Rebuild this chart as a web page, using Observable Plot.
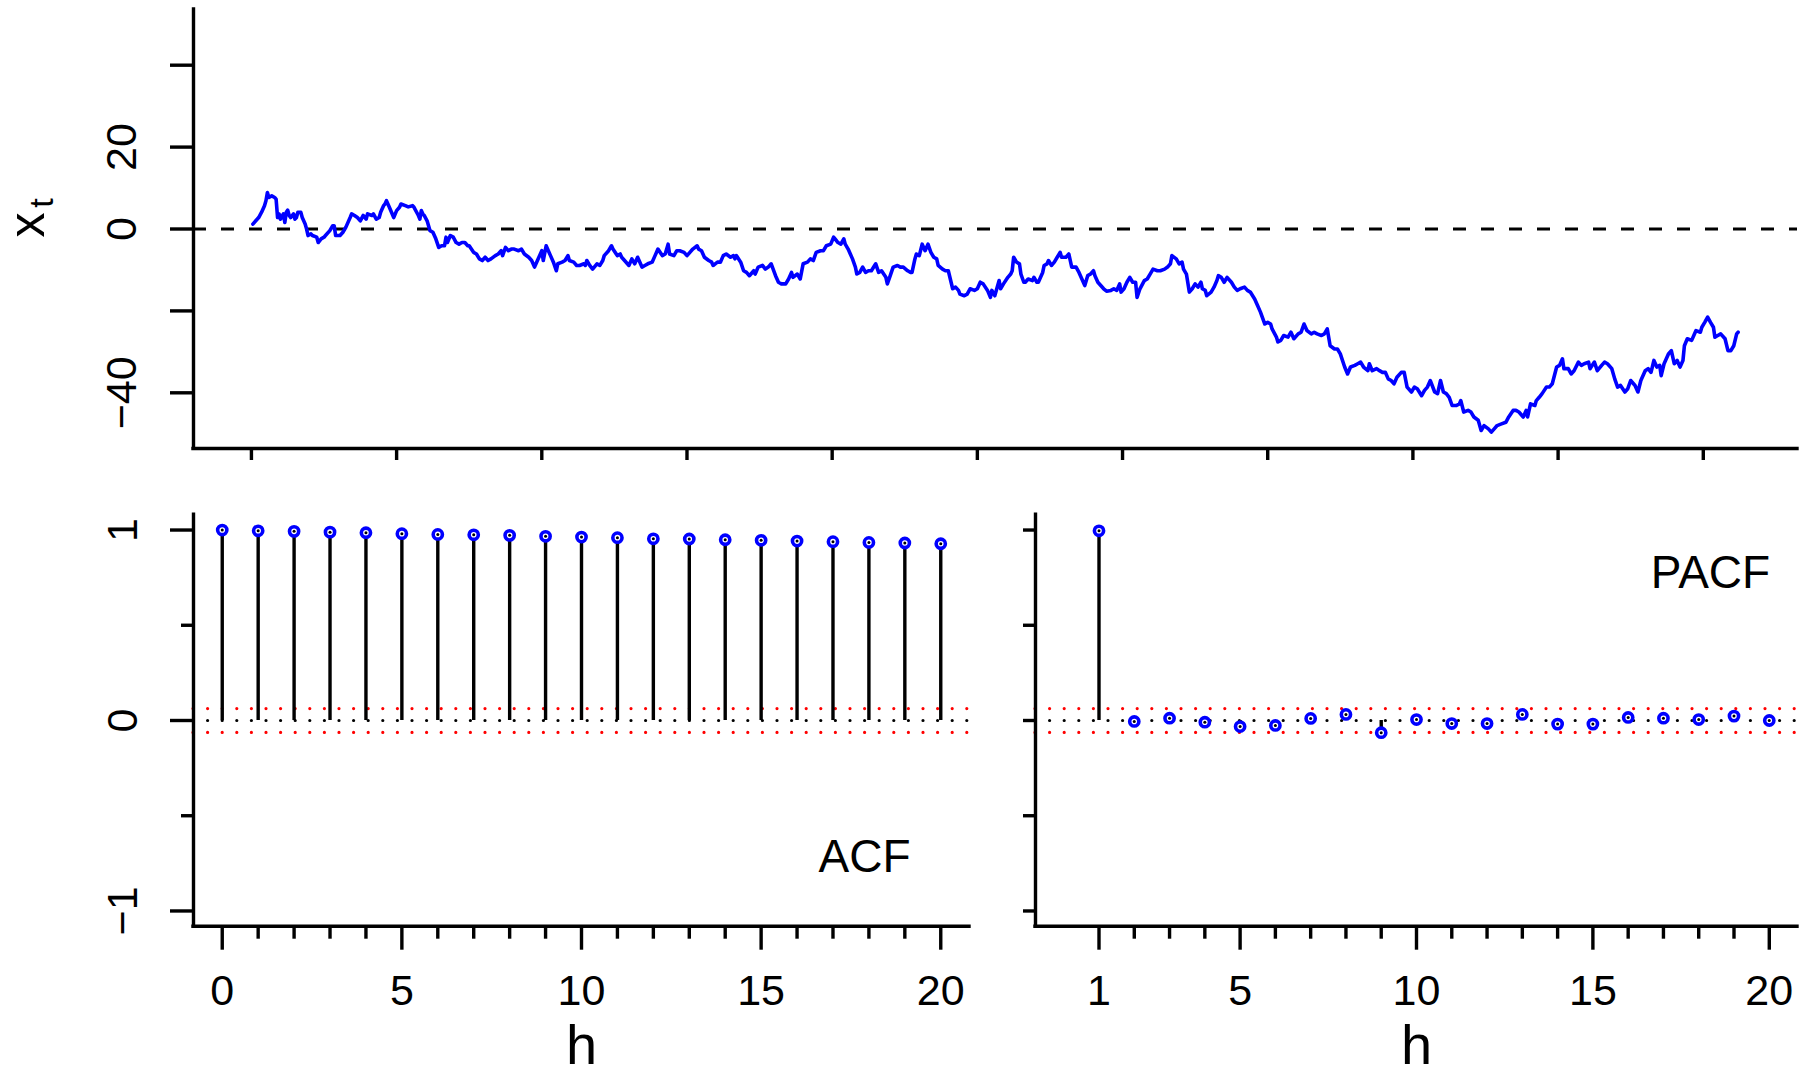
<!DOCTYPE html>
<html>
<head>
<meta charset="utf-8">
<script src="https://cdn.jsdelivr.net/npm/d3@7"></script>
<script src="https://cdn.jsdelivr.net/npm/@observablehq/plot@0.6"></script>
<style>
html, body { margin: 0; padding: 0; background: #fff; }
#chart { position: relative; width: 1804px; height: 1076px; overflow: hidden; background: #fff; }
#chart svg { position: absolute; overflow: visible; }
</style>
</head>
<body>
<div id="chart"></div>
<script>
// ---- Top panel: random walk x_t (time index and value) ----
const timeIndex = [1,3,5,7,9,10,11,12,14,16,17,18,19,20,22,23,24,25,26,27,29,30,31,32,34,35,37,38,39,41,42,45,46,48,50,51,54,56,57,58,61,63,65,68,69,71,73,75,77,79,80,83,84,86,88,89,91,92,93,95,98,100,102,103,106,108,111,112,115,116,117,118,119,121,122,123,125,127,129,131,133,134,135,137,139,141,143,145,147,149,150,153,155,157,159,161,163,165,168,170,172,173,175,177,179,181,184,186,188,191,193,195,196,198,200,201,203,206,208,210,211,214,216,218,219,222,224,226,229,230,231,233,235,238,240,242,243,246,248,249,252,254,255,257,260,262,264,266,269,271,273,276,278,280,283,285,287,288,291,293,295,298,300,302,304,307,308,310,312,315,317,318,321,323,325,327,330,332,333,334,337,339,341,343,346,347,349,352,354,356,358,361,363,365,368,370,372,373,376,378,380,383,385,387,389,392,394,396,399,401,402,404,406,408,409,411,414,416,417,419,421,423,425,427,430,432,434,437,438,440,442,445,447,449,452,454,455,457,458,460,462,464,466,468,470,472,473,476,478,480,483,485,487,488,491,493,495,498,500,502,504,507,509,510,512,515,516,518,521,523,524,525,527,529,530,532,533,535,538,539,541,542,545,546,548,549,551,553,555,557,558,561,563,565,568,570,572,574,576,578,580,581,583,585,587,589,592,594,596,598,599,601,603,605,607,609,610,612,615,617,619,621,624,626,629,631,633,634,637,639,641,642,644,646,648,650,652,654,655,657,658,661,663,665,666,668,670,672,675,677,679,681,684,686,688,691,693,695,698,700,702,703,706,707,709,711,714,716,718,721,723,725,727,730,732,734,737,739,741,743,746,748,750,753,755,757,760,762,764,766,769,770,772,775,777,779,781,783,785,787,789,792,794,796,799,801,803,806,808,810,812,815,817,819,821,823,825,827,830,832,833,835,838,840,842,845,847,849,852,854,856,858,861,864,866,869,871,873,876,878,879,881,884,885,887,889,892,894,896,899,901,903,904,907,909,911,914,916,918,921,922,925,927,930,932,934,937,939,941,943,946,948,950,953,955,957,960,962,964,966,968,970,971,973,976,978,980,982,984,986,987,989,992,994,995,998,999,1001,1003,1005,1007,1008,1010,1012,1015,1017,1019,1021,1023,1024];
const xt = [1.2,2.0,2.8,4.1,5.7,6.9,8.9,7.7,8.1,7.7,7.3,2.8,3.7,2.4,3.7,1.6,4.1,4.6,3.3,2.8,3.7,2.4,2.8,4.1,4.1,2.8,1.2,0,-1.6,-1.2,-1.6,-2.0,-3.3,-2.4,-2.0,-1.6,-0.4,0.8,0.8,-1.6,-1.6,-0.8,0.4,2.8,3.7,3.3,2.8,2.0,3.3,2.4,3.7,3.3,3.7,2.4,2.8,4.1,5.7,6.1,6.9,5.3,2.8,4.5,5.3,6.1,5.7,5.4,5.7,5.3,3.3,2.4,4.5,3.7,3.3,2.0,0.8,-0.4,-0.8,-2.4,-4.5,-4.1,-4.1,-2.0,-3.3,-1.6,-2.0,-3.3,-3.7,-3.3,-3.3,-4.1,-4.1,-5.7,-6.1,-7.3,-7.7,-6.9,-7.7,-7.3,-6.5,-6.1,-5.3,-6.5,-4.5,-5.3,-4.9,-4.9,-5.3,-4.9,-6.1,-6.9,-7.7,-9.3,-8.5,-6.9,-5.3,-7.7,-4.1,-6.5,-8.1,-10.2,-8.5,-8.1,-7.7,-6.5,-7.7,-8.1,-8.9,-8.9,-8.5,-8.9,-7.7,-8.9,-9.8,-8.5,-8.9,-7.7,-6.5,-5.3,-4.1,-4.9,-6.5,-6.1,-6.9,-7.7,-8.9,-7.3,-8.5,-6.9,-9.3,-8.9,-8.5,-8.1,-6.5,-4.9,-6.5,-6.1,-3.7,-6.1,-6.5,-5.3,-5.3,-5.7,-6.5,-5.7,-4.9,-4.1,-4.9,-5.3,-6.9,-7.7,-8.1,-8.9,-8.1,-8.1,-6.5,-6.1,-6.9,-6.5,-7.3,-6.5,-8.1,-10.2,-10.6,-11.4,-10.2,-11.0,-9.3,-8.9,-9.8,-9.3,-8.5,-11.4,-13.0,-13.4,-13.4,-12.2,-10.6,-11.8,-11.0,-12.2,-8.5,-8.1,-7.3,-7.7,-5.7,-5.3,-5.3,-4.1,-3.7,-2.0,-2.4,-3.3,-3.7,-2.4,-3.7,-4.9,-7.3,-9.3,-11.0,-10.6,-9.3,-10.6,-10.2,-10.2,-8.5,-10.6,-10.2,-11.8,-13.4,-11.4,-9.3,-8.9,-9.3,-9.3,-10.2,-10.6,-10.6,-7.3,-6.1,-6.5,-3.7,-5.3,-3.7,-5.7,-6.9,-7.3,-8.9,-9.8,-10.2,-10.2,-14.6,-14.2,-15.0,-15.9,-16.3,-15.9,-14.6,-15.0,-14.6,-13.0,-13.4,-15.0,-16.7,-15.0,-16.3,-12.6,-14.6,-13.4,-11.8,-11.0,-10.2,-6.9,-8.1,-8.5,-11.0,-13.0,-13.0,-12.2,-12.6,-11.8,-13.0,-13.0,-10.6,-8.9,-8.5,-7.7,-8.9,-8.1,-6.9,-5.7,-6.9,-6.9,-6.1,-9.3,-9.3,-10.6,-12.2,-13.8,-11.4,-11.0,-10.2,-11.4,-13.0,-13.8,-14.6,-15.2,-15.0,-14.6,-15.0,-13.4,-15.4,-14.6,-13.0,-11.8,-13.0,-13.0,-16.7,-14.6,-12.6,-12.2,-11.0,-9.8,-10.2,-10.2,-9.8,-9.3,-8.5,-6.5,-7.3,-8.5,-8.1,-9.8,-11.0,-15.4,-14.6,-13.4,-14.2,-13.0,-14.6,-15.0,-16.3,-15.4,-14.2,-12.6,-11.4,-11.8,-13.0,-11.8,-13.0,-14.2,-15.0,-14.6,-14.2,-15.0,-15.4,-17.1,-18.7,-20.3,-23.2,-22.8,-23.2,-24.4,-26.4,-27.6,-27.2,-26.0,-26.4,-25.2,-26.8,-25.6,-25.2,-23.2,-24.8,-25.6,-25.2,-25.6,-26.0,-25.6,-24.4,-28.5,-29.3,-29.3,-30.5,-33.7,-35.4,-33.7,-33.3,-32.9,-32.5,-33.7,-34.6,-32.9,-34.6,-34.1,-34.6,-35.0,-35.0,-36.6,-37.0,-37.8,-36.2,-35.0,-35.0,-38.6,-39.8,-38.6,-39.0,-40.7,-39.4,-38.6,-37.0,-39.8,-40.2,-37.0,-39.8,-40.2,-41.1,-43.1,-43.1,-42.7,-41.9,-44.7,-44.3,-44.7,-45.9,-46.7,-49.2,-48.0,-48.8,-49.6,-48.8,-48.0,-47.6,-47.2,-45.9,-44.3,-44.3,-44.7,-45.9,-44.3,-45.9,-42.7,-43.1,-41.9,-41.1,-40.2,-38.6,-38.6,-37.8,-33.7,-33.3,-31.7,-34.1,-34.1,-35.4,-34.6,-32.5,-33.3,-32.9,-32.5,-34.1,-32.5,-34.6,-33.3,-32.5,-32.9,-34.1,-36.6,-38.6,-38.2,-39.8,-39.0,-37.0,-38.2,-39.8,-37.0,-34.6,-34.1,-35.0,-32.1,-33.7,-33.3,-35.8,-32.9,-30.5,-29.7,-32.9,-32.1,-33.7,-32.1,-28.5,-26.8,-27.2,-25.6,-24.8,-25.2,-24.0,-22.8,-21.5,-22.8,-24.0,-26.4,-26.0,-25.6,-26.8,-29.7,-29.7,-28.5,-25.6,-25.2];
const topXTicks = [0,100,200,300,400,500,600,700,800,900,1000];
const topYTicks = [-40,-20,0,20,40];
const topYLabels = [-40,0,20];

// ---- Bottom panels: sample ACF and PACF ----
const acfLags = [0,1,2,3,4,5,6,7,8,9,10,11,12,13,14,15,16,17,18,19,20];
const acfValues = [1.000,0.996,0.993,0.989,0.986,0.981,0.977,0.975,0.972,0.967,0.963,0.960,0.954,0.953,0.949,0.946,0.942,0.939,0.935,0.932,0.928];
const pacfLags = [1,2,3,4,5,6,7,8,9,10,11,12,13,14,15,16,17,18,19,20];
const pacfValues = [0.996,-0.005,0.012,-0.009,-0.032,-0.026,0.011,0.032,-0.064,0.005,-0.016,-0.016,0.032,-0.019,-0.019,0.016,0.012,0.005,0.023,0.000];
const confBand = [0.0625, -0.0625];
const corrYMajor = [-1,0,1];
const corrYMinor = [-0.5,0.5];
const acfXMajor = [0,5,10,15,20];
const acfXMinor = [1,2,3,4,6,7,8,9,11,12,13,14,16,17,18,19];
const pacfXMajor = [1,5,10,15,20];
const pacfXMinor = [2,3,4,6,7,8,9,11,12,13,14,16,17,18,19];

const FONT = "'Liberation Sans', Arial, Helvetica, sans-serif";
const BLUE = "#0000FF";
const RED = "#FF0000";
const LW = 3.4;
const minus = d => String(d).replace("-", "\u2212");
const blank = () => "";

const chart = document.getElementById("chart");
function place(svg, left, top) {
  svg.style.left = left + "px";
  svg.style.top = top + "px";
  chart.appendChild(svg);
}

// ---------- Top panel ----------
const series = timeIndex.map((t, i) => ({t, x: xt[i]}));
const topXDom = [-39.9, 1064.9];
const topYDom = [-53.6, 53.6];
const topPlot = Plot.plot({
  width: 1804, height: 470,
  marginLeft: 193, marginRight: 7, marginTop: 9, marginBottom: 22,
  style: {fontFamily: FONT, fontSize: "43px", background: "transparent", color: "black"},
  x: {domain: topXDom, axis: null, label: null},
  y: {domain: topYDom, axis: null, label: null},
  marks: [
    Plot.ruleY([0], {stroke: "black", strokeWidth: 3, strokeDasharray: "13,15"}),
    Plot.line(series, {x: "t", y: "x", stroke: BLUE, strokeWidth: 3.6, strokeLinejoin: "round", strokeLinecap: "round"}),
    Plot.axisY(topYTicks, {anchor: "left", tickSize: 23, tickFormat: blank, strokeWidth: LW, label: null}),
    Plot.axisX(topXTicks, {anchor: "bottom", tickSize: 12, tickFormat: blank, strokeWidth: LW, label: null}),
    Plot.ruleX([topXDom[0]], {stroke: "black", strokeWidth: LW, strokeLinecap: "square"}),
    Plot.ruleY([topYDom[0]], {stroke: "black", strokeWidth: LW, strokeLinecap: "square"}),
    Plot.text(topYLabels, {y: d => d, text: minus, frameAnchor: "left", dx: -71, rotate: -90,
      textAnchor: "middle", lineAnchor: "middle", fontSize: 43, fill: "black"}),
    Plot.text(["x"], {frameAnchor: "left", dx: -166, dy: -4, rotate: -90, textAnchor: "middle", lineAnchor: "middle", fontSize: 50, fill: "black"}),
    Plot.text(["t"], {frameAnchor: "left", dx: -151, dy: -26, rotate: -90, textAnchor: "middle", lineAnchor: "middle", fontSize: 34, fill: "black"})
  ]
});
place(topPlot, 0, 0);

// ---------- Bottom panels ----------
const corrYDom = [-1.08, 1.08];
const corrXDom = [-0.8, 20.8];
const acfData = acfLags.map((lag, i) => ({lag, value: acfValues[i]}));
const pacfData = pacfLags.map((lag, i) => ({lag, value: pacfValues[i]}));

function corrMarks(data, yMajorSize, xMajor, xMinor, showYLabels) {
  const marks = [
    Plot.ruleY(confBand, {stroke: RED, strokeWidth: 3.2, strokeLinecap: "round", strokeDasharray: "0,14.6"}),
    Plot.ruleY([0], {stroke: "black", strokeWidth: 3.2, strokeLinecap: "round", strokeDasharray: "0,14.6"}),
    Plot.ruleX(data, {x: "lag", y1: 0, y2: "value", stroke: "black", strokeWidth: LW}),
    Plot.dot(data, {x: "lag", y: "value", r: 4.6, stroke: BLUE, strokeWidth: 3.6, fill: "white"}),
    Plot.dot(data, {x: "lag", y: "value", r: 1.5, fill: "black", stroke: "none"}),
    Plot.axisY(corrYMajor, {anchor: "left", tickSize: yMajorSize, tickFormat: blank, strokeWidth: LW, label: null}),
    Plot.axisY(corrYMinor, {anchor: "left", tickSize: 12, tickFormat: blank, strokeWidth: LW, label: null}),
    Plot.axisX(xMajor, {anchor: "bottom", tickSize: 24, tickFormat: blank, strokeWidth: LW, label: null}),
    Plot.axisX(xMinor, {anchor: "bottom", tickSize: 13, tickFormat: blank, strokeWidth: LW, label: null}),
    Plot.text(xMajor, {x: d => d, text: d => String(d), frameAnchor: "bottom", dy: 48, lineAnchor: "top",
      textAnchor: "middle", fontSize: 43, fill: "black"}),
    Plot.ruleX([corrXDom[0]], {stroke: "black", strokeWidth: LW, strokeLinecap: "square"}),
    Plot.ruleY([corrYDom[0]], {stroke: "black", strokeWidth: LW, strokeLinecap: "square"}),
    Plot.text(["h"], {frameAnchor: "bottom", dy: 138, lineAnchor: "bottom", textAnchor: "middle", fontSize: 56, fill: "black"})
  ];
  if (showYLabels) {
    marks.push(Plot.text(corrYMajor, {y: d => d, text: minus, frameAnchor: "left", dx: -70, rotate: -90,
      textAnchor: "middle", lineAnchor: "middle", fontSize: 43, fill: "black"}));
  }
  return marks;
}

const acfPlot = Plot.plot({
  width: 1000, height: 596,
  marginLeft: 193, marginRight: 31, marginTop: 34.3, marginBottom: 150.3,
  style: {fontFamily: FONT, fontSize: "43px", background: "transparent", color: "black"},
  x: {domain: corrXDom, axis: null, label: null},
  y: {domain: corrYDom, axis: null, label: null},
  marks: [
    ...corrMarks(acfData, 23, acfXMajor, acfXMinor, true),
    Plot.text(["ACF"], {frameAnchor: "bottom-right", dx: -105, dy: -69, textAnchor: "middle", lineAnchor: "middle", fontSize: 46, fill: "black"})
  ]
});
place(acfPlot, 0, 480);

const pacfPlot = Plot.plot({
  width: 804, height: 596,
  marginLeft: 35, marginRight: 7, marginTop: 34.3, marginBottom: 150.3,
  style: {fontFamily: FONT, fontSize: "43px", background: "transparent", color: "black"},
  x: {domain: corrXDom, axis: null, label: null},
  y: {domain: corrYDom, axis: null, label: null},
  marks: [
    ...corrMarks(pacfData, 12, pacfXMajor, pacfXMinor, false),
    Plot.text(["PACF"], {frameAnchor: "top-right", dx: -87, dy: 58, textAnchor: "middle", lineAnchor: "middle", fontSize: 46, fill: "black"})
  ]
});
place(pacfPlot, 1000, 480);
</script>
</body>
</html>
